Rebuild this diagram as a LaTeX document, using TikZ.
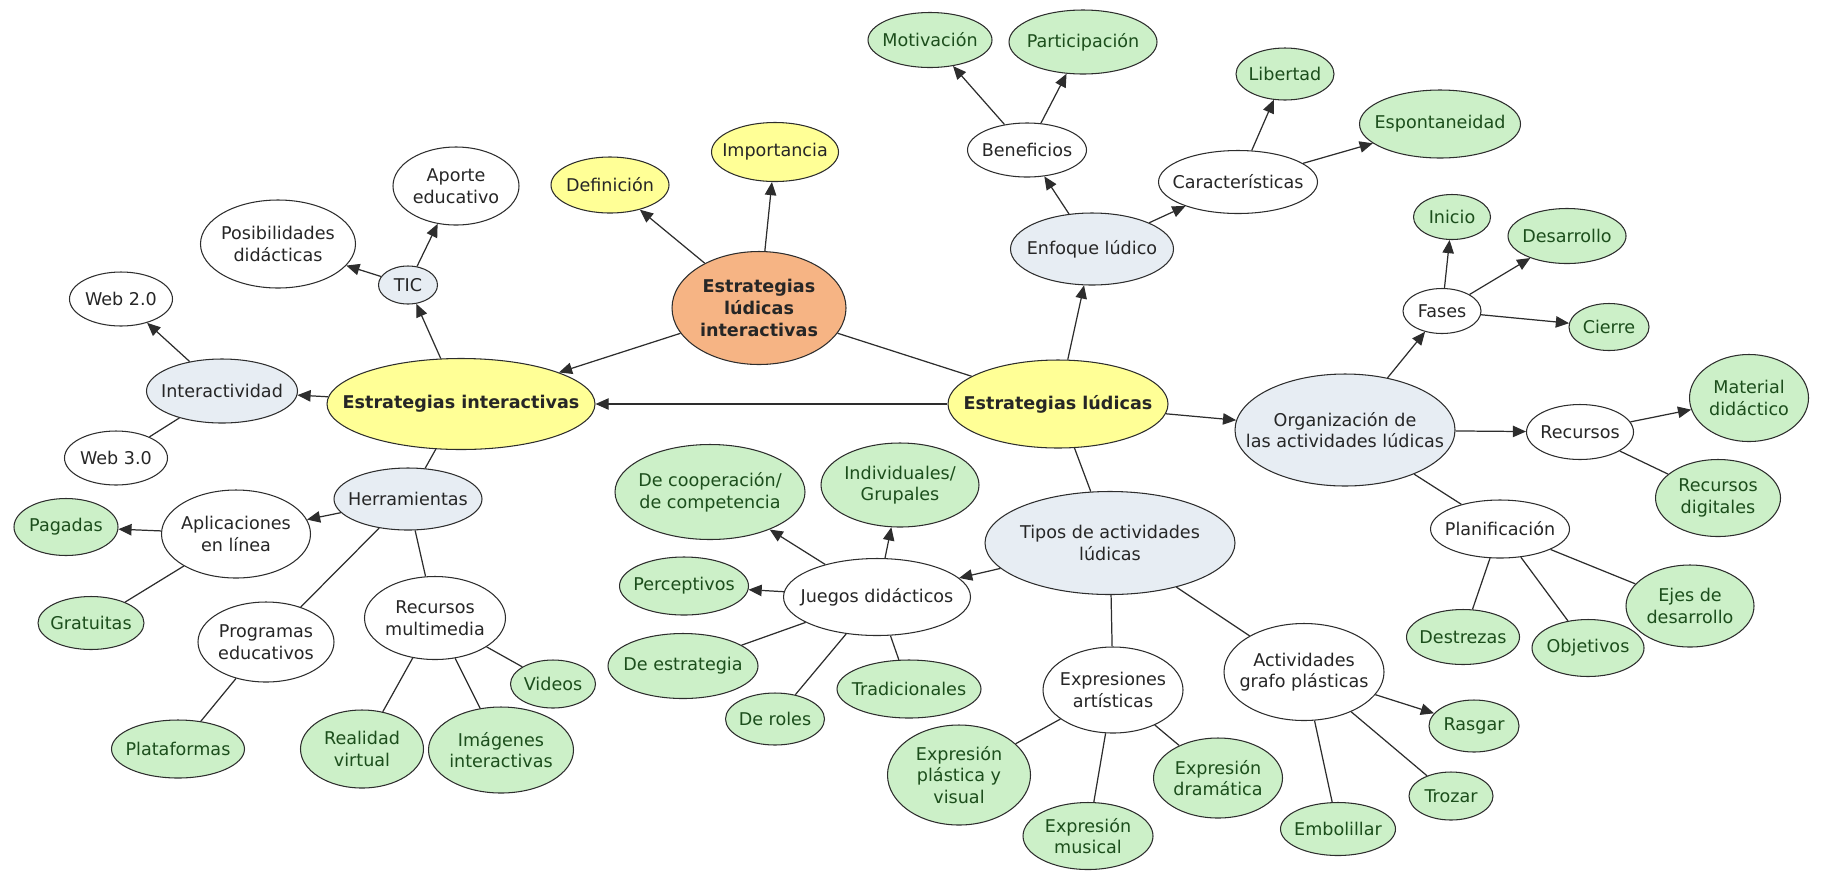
\documentclass[tikz,border=0pt]{standalone}
\usepackage{fontspec}
\setmainfont{DejaVu Sans}
\usetikzlibrary{shapes.geometric,arrows.meta}
\definecolor{rootfill}{RGB}{246,180,132}
\definecolor{mainfill}{RGB}{255,255,150}
\definecolor{topicfill}{RGB}{231,237,243}
\definecolor{leaffill}{RGB}{204,240,200}
\definecolor{leaftext}{RGB}{28,78,28}
\definecolor{edgegray}{RGB}{45,45,45}
\begin{document}
\begin{tikzpicture}[x=0.02cm,y=-0.02cm,every node/.style={font=\fontsize{10}{12.3}\selectfont,text=black!85},
  concept/.style={ellipse,draw=edgegray,line width=0.6pt,inner xsep=-40pt,inner ysep=-20pt,align=center},
  wh/.style 2 args={minimum width=#1*0.02cm,minimum height=#2*0.02cm},
  rootnode/.style={concept,fill=rootfill,font=\fontsize{10}{12.3}\selectfont\bfseries},
  mainnode/.style={concept,fill=mainfill,font=\fontsize{10}{12.3}\selectfont\bfseries},
  notenode/.style={concept,fill=mainfill},
  topicnode/.style={concept,fill=topicfill},
  subnode/.style={concept,fill=white},
  leafnode/.style={concept,fill=leaffill,text=leaftext},
  link/.style={draw=edgegray,line width=0.7pt},
  arr/.style={link,-{Triangle[length=7.5pt,width=6.5pt]}}]
  \useasboundingbox (0,0) rectangle (1821,873);
  % centre
  \node[rootnode,wh={174}{113}] (eli) at (759,308) {Estrategias\\lúdicas\\interactivas};
  \node[notenode,wh={118}{56}] (def) at (610,185) {Definición};
  \node[notenode,wh={127}{59}] (imp) at (775,152) {Importancia};
  \node[mainnode,wh={268}{91}] (ei) at (461,404) {Estrategias interactivas};
  \node[mainnode,wh={220}{88}] (el) at (1058,404) {Estrategias lúdicas};
  % left branch
  \node[topicnode,wh={59}{38}] (tic) at (408,285) {TIC};
  \node[subnode,wh={155}{88}] (posib) at (278,244) {Posibilidades\\didácticas};
  \node[subnode,wh={126}{78}] (aporte) at (456,186) {Aporte\\educativo};
  \node[topicnode,wh={151}{64}] (inter) at (222,391) {Interactividad};
  \node[subnode,wh={103}{54}] (web2) at (121,299) {Web 2.0};
  \node[subnode,wh={103}{54}] (web3) at (116,458) {Web 3.0};
  \node[topicnode,wh={148}{62}] (herr) at (408,499) {Herramientas};
  \node[subnode,wh={149}{88}] (aplic) at (236,534) {Aplicaciones\\en línea};
  \node[leafnode,wh={104}{57}] (pag) at (66,527) {Pagadas};
  \node[leafnode,wh={106}{53}] (grat) at (91,623) {Gratuitas};
  \node[subnode,wh={136}{80}] (prog) at (266,642) {Programas\\educativos};
  \node[leafnode,wh={133}{58}] (plat) at (178,749) {Plataformas};
  \node[subnode,wh={141}{83}] (recm) at (435,618) {Recursos\\multimedia};
  \node[leafnode,wh={85}{48}] (vid) at (553,684) {Videos};
  \node[leafnode,wh={123}{78}] (real) at (362,749) {Realidad\\virtual};
  \node[leafnode,wh={145}{86}] (img) at (501,750) {Imágenes\\interactivas};
  % right branch, top
  \node[topicnode,wh={163}{72}] (enf) at (1092,249) {Enfoque lúdico};
  \node[subnode,wh={119}{54}] (ben) at (1027,150) {Beneficios};
  \node[leafnode,wh={124}{55}] (mot) at (930,40) {Motivación};
  \node[leafnode,wh={148}{64}] (par) at (1083,42) {Participación};
  \node[subnode,wh={159}{63}] (car) at (1238,182) {Características};
  \node[leafnode,wh={98}{52}] (lib) at (1285,74) {Libertad};
  \node[leafnode,wh={161}{68}] (esp) at (1440,124) {Espontaneidad};
  % organizacion
  \node[topicnode,wh={220}{112}] (org) at (1345,430) {Organización de\\las actividades lúdicas};
  \node[subnode,wh={78}{45}] (fas) at (1442,311) {Fases};
  \node[leafnode,wh={77}{45}] (ini) at (1452,217) {Inicio};
  \node[leafnode,wh={118}{55}] (des) at (1567,236) {Desarrollo};
  \node[leafnode,wh={80}{47}] (cie) at (1609,327) {Cierre};
  \node[subnode,wh={107}{55}] (rec) at (1580,432) {Recursos};
  \node[leafnode,wh={119}{87}] (mat) at (1749,398) {Material\\didáctico};
  \node[leafnode,wh={125}{77}] (recd) at (1718,498) {Recursos\\digitales};
  \node[subnode,wh={139}{58}] (plan) at (1500,529) {Planificación};
  \node[leafnode,wh={113}{55}] (dest) at (1463,637) {Destrezas};
  \node[leafnode,wh={112}{57}] (obj) at (1588,648) {Objetivos};
  \node[leafnode,wh={128}{82}] (ejes) at (1690,606) {Ejes de\\desarrollo};
  % tipos de actividades
  \node[topicnode,wh={250}{103}] (tipos) at (1110,543) {Tipos de actividades\\lúdicas};
  \node[subnode,wh={187}{77}] (jue) at (877,597) {Juegos didácticos};
  \node[leafnode,wh={190}{95}] (coop) at (710,492) {De cooperación/\\de competencia};
  \node[leafnode,wh={158}{84}] (indiv) at (900,485) {Individuales/\\Grupales};
  \node[leafnode,wh={129}{58}] (perc) at (684,586) {Perceptivos};
  \node[leafnode,wh={150}{65}] (estr) at (683,666) {De estrategia};
  \node[leafnode,wh={99}{52}] (roles) at (775,719) {De roles};
  \node[leafnode,wh={144}{58}] (trad) at (909,689) {Tradicionales};
  \node[subnode,wh={140}{86}] (expr) at (1113,690) {Expresiones\\artísticas};
  \node[leafnode,wh={143}{100}] (plas) at (959,775) {Expresión\\plástica y\\visual};
  \node[leafnode,wh={130}{67}] (mus) at (1088,836) {Expresión\\musical};
  \node[leafnode,wh={129}{80}] (dram) at (1218,778) {Expresión\\dramática};
  \node[subnode,wh={160}{97}] (graf) at (1304,672) {Actividades\\grafo plásticas};
  \node[leafnode,wh={90}{52}] (ras) at (1474,726) {Rasgar};
  \node[leafnode,wh={84}{48}] (tro) at (1451,796) {Trozar};
  \node[leafnode,wh={115}{53}] (emb) at (1338,829) {Embolillar};
  % connectors
  \draw[arr] (eli) -- (def); \draw[arr] (eli) -- (imp); \draw[arr] (eli) -- (ei);
  \draw[link] (eli) -- (el); \draw[arr] (el) -- (ei);
  \draw[arr] (ei) -- (tic); \draw[arr] (tic) -- (posib); \draw[arr] (tic) -- (aporte);
  \draw[arr] (ei) -- (inter); \draw[arr] (inter) -- (web2); \draw[link] (inter) -- (web3);
  \draw[link] (ei) -- (herr); \draw[arr] (herr) -- (aplic);
  \draw[arr] (aplic) -- (pag); \draw[link] (aplic) -- (grat);
  \draw[link] (herr) -- (prog); \draw[link] (prog) -- (plat);
  \draw[link] (herr) -- (recm);
  \draw[link] (recm) -- (vid); \draw[link] (recm) -- (real); \draw[link] (recm) -- (img);
  \draw[arr] (el) -- (enf); \draw[arr] (enf) -- (ben);
  \draw[arr] (ben) -- (mot); \draw[arr] (ben) -- (par);
  \draw[arr] (enf) -- (car); \draw[arr] (car) -- (lib); \draw[arr] (car) -- (esp);
  \draw[arr] (el) -- (org); \draw[arr] (org) -- (fas);
  \draw[arr] (fas) -- (ini); \draw[arr] (fas) -- (des); \draw[arr] (fas) -- (cie);
  \draw[arr] (org) -- (rec); \draw[arr] (rec) -- (mat); \draw[link] (rec) -- (recd);
  \draw[link] (org) -- (plan);
  \draw[link] (plan) -- (dest); \draw[link] (plan) -- (obj); \draw[link] (plan) -- (ejes);
  \draw[link] (el) -- (tipos); \draw[arr] (tipos) -- (jue);
  \draw[arr] (jue) -- (coop); \draw[arr] (jue) -- (indiv); \draw[arr] (jue) -- (perc);
  \draw[link] (jue) -- (estr); \draw[link] (jue) -- (roles); \draw[link] (jue) -- (trad);
  \draw[link] (tipos) -- (expr);
  \draw[link] (expr) -- (plas); \draw[link] (expr) -- (mus); \draw[link] (expr) -- (dram);
  \draw[link] (tipos) -- (graf);
  \draw[arr] (graf) -- (ras); \draw[link] (graf) -- (tro); \draw[link] (graf) -- (emb);
\end{tikzpicture}
\end{document}
